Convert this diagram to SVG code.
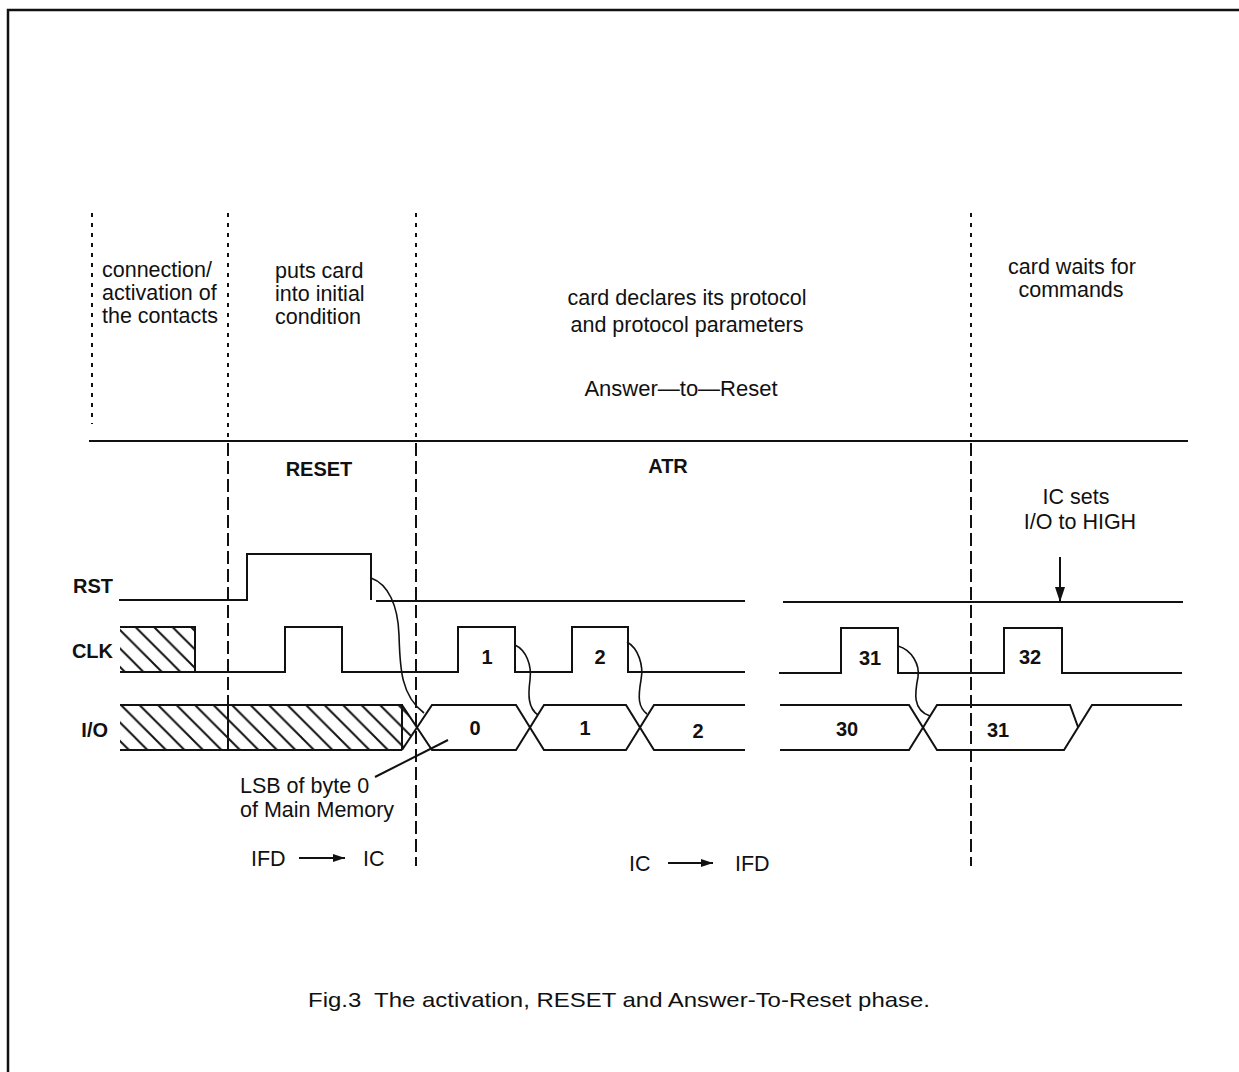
<svg xmlns="http://www.w3.org/2000/svg" width="1239" height="1072" viewBox="0 0 1239 1072">
<style>
  .t { font-family: "Liberation Sans", Arial, sans-serif; font-size: 21.5px; fill: #111; }
  .b { font-family: "Liberation Sans", Arial, sans-serif; font-weight: bold; font-size: 20px; fill: #111; }
  .n { font-family: "Liberation Sans", Arial, sans-serif; font-weight: bold; font-size: 20px; fill: #111; text-anchor: middle; }
  .m { text-anchor: middle; }
  .sig { fill: none; stroke: #111; stroke-width: 2; }
  .dot { fill: none; stroke: #111; stroke-width: 2; stroke-dasharray: 4 6; }
  .dash { fill: none; stroke: #111; stroke-width: 2; stroke-dasharray: 13 5; }
  .cur { fill: none; stroke: #111; stroke-width: 1.6; }
</style>
<defs>
  <pattern id="hatch" patternUnits="userSpaceOnUse" width="18.5" height="18.5" x="6" y="627">
    <path d="M0,0 L18.5,18.5 M-2,16.5 L2,20.5 M16.5,-2 L20.5,2" stroke="#111" stroke-width="2"/>
  </pattern>
  <marker id="ah" viewBox="0 0 12 8" refX="12" refY="4" markerWidth="12" markerHeight="8" markerUnits="userSpaceOnUse" orient="auto">
    <path d="M0,0 L12,4 L0,8 Z" fill="#111"/>
  </marker>
  <marker id="ah2" viewBox="0 0 15 10" refX="15" refY="5" markerWidth="15" markerHeight="10" markerUnits="userSpaceOnUse" orient="auto">
    <path d="M0,0 L15,5 L0,10 Z" fill="#111"/>
  </marker>
</defs>
<rect x="0" y="0" width="1239" height="1072" fill="#fff"/>
<path d="M8,1080 V10 H1250" fill="none" stroke="#111" stroke-width="2.5"/>

<g id="phase-lines">
  <line class="dot" x1="92" y1="213" x2="92" y2="424"/>
  <line class="dot" x1="228" y1="213" x2="228" y2="441"/>
  <line class="dot" x1="416" y1="213" x2="416" y2="441"/>
  <line class="dot" x1="971" y1="213" x2="971" y2="441"/>
  <line x1="89" y1="441" x2="1188" y2="441" stroke="#111" stroke-width="2"/>
  <line class="dash" x1="228" y1="443" x2="228" y2="705"/>
  <line class="dash" x1="416" y1="443" x2="416" y2="866"/>
  <line class="dash" x1="971" y1="443" x2="971" y2="866"/>
</g>

<g id="phase-texts">
  <text class="t" x="102" y="277">connection/</text>
  <text class="t" x="102" y="300">activation of</text>
  <text class="t" x="102" y="323">the contacts</text>
  <text class="t" x="275" y="278">puts card</text>
  <text class="t" x="275" y="301">into initial</text>
  <text class="t" x="275" y="324">condition</text>
  <text class="t m" x="687" y="305">card declares its protocol</text>
  <text class="t m" x="687" y="332">and protocol parameters</text>
  <text class="t m" x="681" y="396" style="font-size:22px">Answer—to—Reset</text>
  <text class="t m" x="1072" y="274">card waits for</text>
  <text class="t m" x="1071" y="297">commands</text>
  <text class="b m" x="319" y="476">RESET</text>
  <text class="b m" x="668" y="473">ATR</text>
  <text class="t m" x="1076" y="504">IC sets</text>
  <text class="t m" x="1080" y="529">I/O to HIGH</text>
</g>

<g id="signal-labels">
  <text class="b" x="113" y="593" text-anchor="end">RST</text>
  <text class="b" x="113" y="658" text-anchor="end">CLK</text>
  <text class="b" x="108" y="737" text-anchor="end">I/O</text>
</g>

<g id="rst">
  <path class="sig" d="M119,600 H247 V554 H371 V600"/>
  <path class="sig" d="M376,601 H745"/>
  <path class="sig" d="M783,602 H1183"/>
</g>

<g id="clk">
  <rect x="120" y="627" width="75" height="45" fill="url(#hatch)"/>
  <path class="sig" d="M120,627 H195 V672"/>
  <path class="sig" d="M120,672 H285 V627 H342 V672 H458 V627 H515 V672 H572 V627 H628 V672 H745"/>
  <path class="sig" d="M779,673 H841 V628 H898 V673 H1004 V628 H1062 V673 H1182"/>
  <text class="n" x="487" y="664">1</text>
  <text class="n" x="600" y="664">2</text>
  <text class="n" x="870" y="665">31</text>
  <text class="n" x="1030" y="664">32</text>
</g>

<g id="io">
  <path d="M120,705 H402 L417,727.5 L402,750 H120 Z" fill="url(#hatch)" stroke="none"/>
  <path class="sig" d="M120,705 H402 V750 M120,750 H402 M228,705 V750"/>
  <path class="sig" d="M402,705 L432,750 H516 L544,705 H626 L654,750 H745"/>
  <path class="sig" d="M402,750 L432,705 H516 L544,750 H626 L654,705 H745"/>
  <path class="sig" d="M780,705 H909 L937,750 H1064 L1092,705 H1182"/>
  <path class="sig" d="M780,750 H909 L937,705 H1070 L1078,727"/>
  <text class="n" x="475" y="735">0</text>
  <text class="n" x="585" y="735">1</text>
  <text class="n" x="698" y="738">2</text>
  <text class="n" x="847" y="736">30</text>
  <text class="n" x="998" y="737">31</text>
</g>

<g id="connectors">
  <path class="cur" d="M371,578 C388,584 398,605 399,635 C400,665 400,695 424,713"/>
  <path class="cur" d="M515,645 C526,650 532,665 530,680 C528,695 528,708 538,715"/>
  <path class="cur" d="M627,642 C638,648 644,665 641,680 C638,697 638,707 647,714"/>
  <path class="cur" d="M898,646 C912,650 920,665 918,677 C915,692 912,710 930,716"/>
  <line x1="375" y1="777" x2="448" y2="740" stroke="#111" stroke-width="2"/>
  <line x1="1060" y1="557" x2="1060" y2="602" stroke="#111" stroke-width="2" marker-end="url(#ah2)"/>
  <line x1="299" y1="858" x2="345" y2="858" stroke="#111" stroke-width="2" marker-end="url(#ah)"/>
  <line x1="668" y1="863" x2="713" y2="863" stroke="#111" stroke-width="2" marker-end="url(#ah)"/>
</g>

<g id="notes">
  <text class="t" x="240" y="793">LSB of byte 0</text>
  <text class="t" x="240" y="817">of Main Memory</text>
  <text class="t" x="251" y="866">IFD</text>
  <text class="t" x="363" y="866">IC</text>
  <text class="t" x="629" y="871">IC</text>
  <text class="t" x="735" y="871">IFD</text>
  <text class="t m" x="619" y="1007" style="font-size:21px" textLength="622" lengthAdjust="spacingAndGlyphs">Fig.3&#160; The activation, RESET and Answer-To-Reset phase.</text>
</g>
</svg>
